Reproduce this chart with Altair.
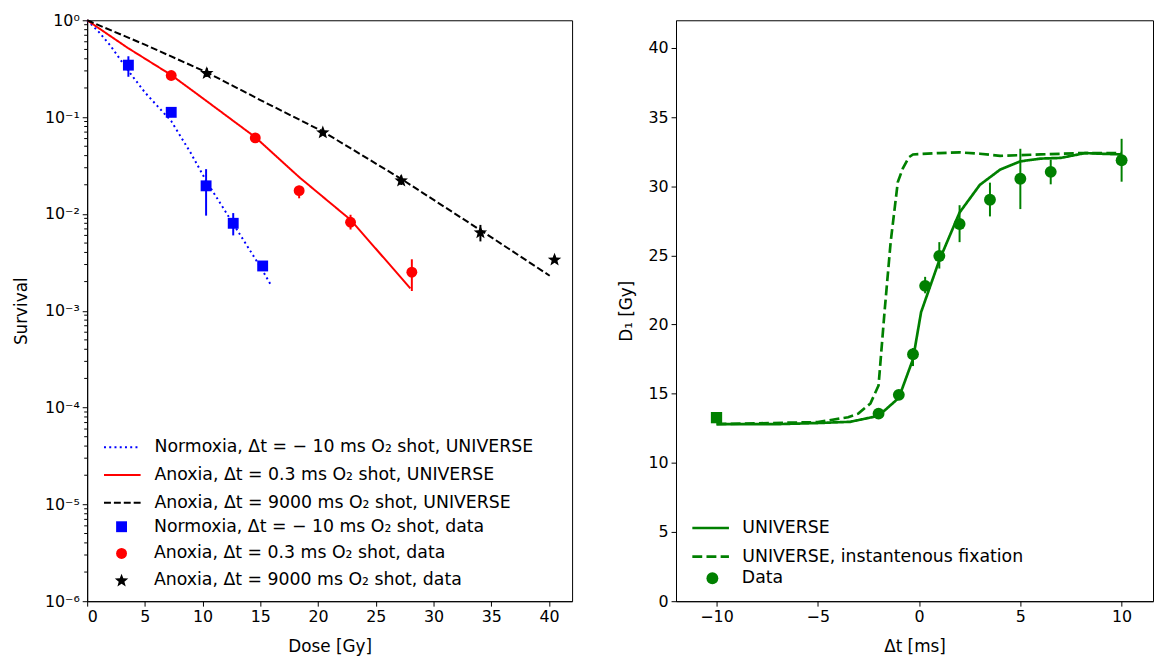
import math
import altair as alt
import pandas as pd

# ---------------- Left panel: survival vs dose ----------------
line_labels = [
    "Normoxia, Δt = − 10 ms O₂ shot, UNIVERSE",
    "Anoxia, Δt = 0.3 ms O₂ shot, UNIVERSE",
    "Anoxia, Δt = 9000 ms O₂ shot, UNIVERSE",
]
data_labels = [
    "Normoxia, Δt = − 10 ms O₂ shot, data",
    "Anoxia, Δt = 0.3 ms O₂ shot, data",
    "Anoxia, Δt = 9000 ms O₂ shot, data",
]
left_colors = ["#0000ff", "#ff0000", "#000000"]

norm_line_dose = [0, 1, 2, 3.57, 5, 7.28, 9, 10.3, 12.65, 15.2, 15.96]
norm_line_surv = [1.0, 0.76, 0.55, 0.30, 0.18, 0.091, 0.042, 0.022, 0.0079, 0.0026, 0.0018]
anox03_line_dose = [0, 3.5, 7.28, 10, 14.56, 18.36, 22.81, 28.0]
anox03_line_surv = [1.0, 0.52, 0.272, 0.157, 0.062, 0.024, 0.0087, 0.0017]
anox9k_line_dose = [0, 5, 10.36, 15, 20.41, 27.2, 34.06, 40.06]
anox9k_line_surv = [1.0, 0.56, 0.29, 0.15, 0.071, 0.023, 0.0068, 0.0023]

norm_dose = [3.57, 7.28, 10.3, 12.65, 15.2]
norm_surv = [0.344, 0.112, 0.0195, 0.0080, 0.0029]
norm_lo = [0.261, 0.100, 0.0096, 0.0060, 0.0027]
norm_hi = [0.425, 0.126, 0.029, 0.0102, 0.0032]

anox03_dose = [7.28, 14.56, 18.36, 22.81, 28.12]
anox03_surv = [0.269, 0.061, 0.0174, 0.0082, 0.0025]
anox03_lo = [0.25, 0.057, 0.0145, 0.0069, 0.0016]
anox03_hi = [0.29, 0.066, 0.0195, 0.0098, 0.0034]

anox9k_dose = [10.36, 20.41, 27.2, 34.06, 40.48]
anox9k_surv = [0.287, 0.070, 0.0223, 0.0065, 0.0034]
anox9k_lo = [0.26, 0.066, 0.0199, 0.0052, 0.0032]
anox9k_hi = [0.32, 0.075, 0.025, 0.0077, 0.0037]

surv_ticks = [1e-6, 1e-5, 1e-4, 1e-3, 1e-2, 1e-1, 1.0]
minor_ticks = [m * 10.0 ** e for e in range(-6, 0) for m in range(2, 10)]
dose_ticks = [0, 5, 10, 15, 20, 25, 30, 35, 40]

# ---------------- Right panel: D1 vs delta t ----------------
right_line_labels = ["UNIVERSE", "UNIVERSE, instantenous fixation"]
green = "#008000"

univ_dt = [-10, -7, -5, -3.4, -2, -1, -0.3, 0.1, 1, 2, 3, 4, 5, 6, 7, 8.2, 9, 10]
univ_d1 = [12.8, 12.8, 12.88, 12.97, 13.4, 14.7, 17.5, 20.9, 24.65, 28.1, 30.1, 31.2, 31.8, 32.0, 32.05, 32.4, 32.35, 32.3]
inst_dt = [-10, -5, -3.5, -3, -2.4, -2, -1.7, -1.4, -1.05, -0.8, -0.5, -0.3, 1, 2, 3, 4, 5, 6, 8, 10]
inst_d1 = [12.8, 12.95, 13.3, 13.56, 14.3, 15.6, 21.0, 26.0, 30.3, 31.3, 32.1, 32.3, 32.4, 32.45, 32.35, 32.2, 32.25, 32.3, 32.4, 32.4]

data_dt = [-2, -1, -0.3, 0.3, 1, 2, 3.5, 5, 6.5, 10]
data_d1 = [13.56, 14.92, 17.85, 22.8, 24.96, 27.27, 29.02, 30.54, 31.04, 31.88]
data_lo = [13.4, 14.7, 17.0, 22.26, 24.05, 25.96, 27.82, 28.35, 30.14, 30.33]
data_hi = [13.75, 15.15, 18.3, 23.45, 25.96, 28.63, 30.26, 32.71, 31.93, 33.43]
sq_dt = [-10]
sq_d1 = [13.27]
sq_lo = [13.1]
sq_hi = [13.45]

dt_ticks = [-10, -5, 0, 5, 10]
d1_ticks = [0, 5, 10, 15, 20, 25, 30, 35, 40]


def star_path(n=5, r_out=1.3, r_in=0.55):
    pts = []
    for k in range(2 * n):
        r = r_out if k % 2 == 0 else r_in
        a = -math.pi / 2 + k * math.pi / n
        pts.append(f"{r * math.cos(a):.3f},{r * math.sin(a) + 0.1:.3f}")
    return "M" + "L".join(pts) + "Z"


# ---------- build tables ----------
left_lines = pd.concat([
    pd.DataFrame({"x": norm_line_dose, "y": norm_line_surv, "label": line_labels[0]}),
    pd.DataFrame({"x": anox03_line_dose, "y": anox03_line_surv, "label": line_labels[1]}),
    pd.DataFrame({"x": anox9k_line_dose, "y": anox9k_line_surv, "label": line_labels[2]}),
])
left_pts = pd.concat([
    pd.DataFrame({"x": norm_dose, "y": norm_surv, "lo": norm_lo, "hi": norm_hi,
                  "label": data_labels[0], "col": left_colors[0]}),
    pd.DataFrame({"x": anox03_dose, "y": anox03_surv, "lo": anox03_lo, "hi": anox03_hi,
                  "label": data_labels[1], "col": left_colors[1]}),
    pd.DataFrame({"x": anox9k_dose, "y": anox9k_surv, "lo": anox9k_lo, "hi": anox9k_hi,
                  "label": data_labels[2], "col": left_colors[2]}),
])
minor_df = pd.DataFrame({"y": minor_ticks})

sup = "['⁰','⁻¹','⁻²','⁻³','⁻⁴','⁻⁵','⁻⁶']"
xL = alt.X("x:Q", scale=alt.Scale(domain=[0, 42], nice=False, zero=False),
           axis=alt.Axis(values=dose_ticks, title="Dose [Gy]"))
yscaleL = alt.Scale(type="log", domain=[1e-6, 1], nice=False)
yaxisL = alt.Axis(values=surv_ticks, title="Survival", titlePadding=14,
                  labelExpr="'10' + " + sup + "[round(-log(datum.value)/LN10)]")
yL = alt.Y("y:Q", scale=yscaleL, axis=yaxisL)

lines_legend = alt.Legend(orient="none", legendX=16, legendY=412, title=None,
                          symbolType="stroke", symbolSize=1369, symbolStrokeWidth=2,
                          labelOffset=13, rowPadding=-2.5)
pts_legend = alt.Legend(orient="none", legendX=26, legendY=503, title=None,
                        symbolSize=121, labelOffset=24, rowPadding=8, symbolStrokeWidth=0)

minor_layer = alt.Chart(minor_df).mark_rule(color="black", strokeWidth=1).encode(
    y=yL, x=alt.value(0), x2=alt.value(-3))

lines_layer = alt.Chart(left_lines).mark_line(strokeWidth=2).encode(
    x=xL, y=yL,
    color=alt.Color("label:N", scale=alt.Scale(domain=line_labels, range=left_colors), legend=lines_legend),
    strokeDash=alt.StrokeDash("label:N", scale=alt.Scale(domain=line_labels, range=[[2, 3.3], [1, 0], [7, 3]]),
                              legend=lines_legend),
)
rules_layer = alt.Chart(left_pts).mark_rule(strokeWidth=2).encode(
    x=xL, y=alt.Y("lo:Q", scale=yscaleL, axis=yaxisL), y2="hi:Q",
    color=alt.Color("col:N", scale=None),
)
points_layer = alt.Chart(left_pts).mark_point(filled=True, opacity=1).encode(
    x=xL, y=yL,
    color=alt.Color("label:N", scale=alt.Scale(domain=data_labels, range=left_colors), legend=pts_legend),
    shape=alt.Shape("label:N", scale=alt.Scale(domain=data_labels, range=["square", "circle", star_path()]),
                    legend=pts_legend),
    size=alt.value(121),
)

left = alt.layer(minor_layer, lines_layer, rules_layer, points_layer).resolve_scale(
    color="independent", strokeDash="independent", shape="independent"
).properties(width=490, height=587)

# ---------- right panel ----------
right_lines = pd.concat([
    pd.DataFrame({"x": univ_dt, "y": univ_d1, "label": right_line_labels[0]}),
    pd.DataFrame({"x": inst_dt, "y": inst_d1, "label": right_line_labels[1]}),
])
right_pts = pd.DataFrame({"x": data_dt, "y": data_d1, "lo": data_lo, "hi": data_hi, "label": "Data"})
right_sq = pd.DataFrame({"x": sq_dt, "y": sq_d1, "lo": sq_lo, "hi": sq_hi})

xR = alt.X("x:Q", scale=alt.Scale(domain=[-12, 11.55], nice=False, zero=False),
           axis=alt.Axis(values=dt_ticks, title="Δt [ms]",
                         labelExpr="replace(datum.label, '-', '−')"))
yscaleR = alt.Scale(domain=[0, 42], nice=False)
yaxisR = alt.Axis(values=d1_ticks, title="D₁ [Gy]", titlePadding=13)
yR = alt.Y("y:Q", scale=yscaleR, axis=yaxisR)

rlines_legend = alt.Legend(orient="none", legendX=15, legendY=493, title=None,
                           symbolType="stroke", symbolSize=1369, symbolStrokeWidth=2.7,
                           labelOffset=12, rowPadding=-5)
rpts_legend = alt.Legend(orient="none", legendX=28, legendY=555, title=None,
                         symbolSize=144, labelOffset=21, symbolStrokeWidth=0)

r_lines = alt.Chart(right_lines).mark_line(strokeWidth=2.7).encode(
    x=xR, y=yR,
    color=alt.Color("label:N", scale=alt.Scale(domain=right_line_labels, range=[green, green]), legend=rlines_legend),
    strokeDash=alt.StrokeDash("label:N", scale=alt.Scale(domain=right_line_labels, range=[[1, 0], [10, 4.3]]),
                              legend=rlines_legend),
)
r_rules = alt.Chart(right_pts).mark_rule(strokeWidth=2, color=green).encode(
    x=xR, y=alt.Y("lo:Q", scale=yscaleR, axis=yaxisR), y2="hi:Q")
r_sq_rule = alt.Chart(right_sq).mark_rule(strokeWidth=2, color=green).encode(
    x=xR, y=alt.Y("lo:Q", scale=yscaleR, axis=yaxisR), y2="hi:Q")
r_pts = alt.Chart(right_pts).mark_point(filled=True, opacity=1, shape="circle").encode(
    x=xR, y=yR,
    color=alt.Color("label:N", scale=alt.Scale(domain=["Data"], range=[green]), legend=rpts_legend),
    size=alt.value(144),
)
r_sq = alt.Chart(right_sq).mark_point(filled=True, opacity=1, shape="square", color=green).encode(
    x=xR, y=yR, size=alt.value(130))

right = alt.layer(r_lines, r_rules, r_sq_rule, r_pts, r_sq).resolve_scale(
    color="independent", strokeDash="independent"
).properties(width=482, height=587)

chart = alt.hconcat(left, right, spacing=44).resolve_scale(
    color="independent", strokeDash="independent", shape="independent"
).properties(
    padding={"left": 4, "top": 0, "right": 0, "bottom": 0}
).configure_view(stroke="black", strokeWidth=1).configure_axis(
    domainColor="black", tickColor="black", labelColor="black", titleColor="black",
    labelFont="DejaVu Sans", titleFont="DejaVu Sans", labelFontSize=16, titleFontSize=17,
    titleFontWeight="normal", tickSize=5, grid=False, domainWidth=1, tickWidth=1, labelPadding=3,
).configure_axisX(titlePadding=14).configure_legend(
    labelFont="DejaVu Sans", labelFontSize=17.5, labelColor="black", padding=0, labelLimit=500,
)

chart.save("out.html", embed_options={"renderer": "svg", "actions": False})
